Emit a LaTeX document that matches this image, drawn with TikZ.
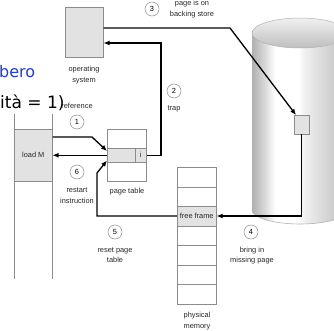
\documentclass[tikz,border=0pt]{standalone}
\usepackage{fontspec}
\setmainfont{Liberation Sans}
\newfontfamily\slidefont{DejaVu Sans}
\usetikzlibrary{arrows.meta,calc}
\definecolor{slideblue}{RGB}{30,60,215}
\definecolor{boxgray}{RGB}{226,226,226}
\definecolor{edgegray}{RGB}{140,140,140}
% light falling on the side of the disk (the path spans 25bp to 75bp)
\pgfdeclarehorizontalshading{diskside}{100bp}{%
  color(0bp)=(gray!62); color(25bp)=(gray!62); color(32bp)=(gray!28); color(37bp)=(white);
  color(49bp)=(white); color(52.5bp)=(gray!12); color(67.5bp)=(gray!40);
  color(75bp)=(gray!50); color(100bp)=(gray!50)}
\begin{document}
\begin{tikzpicture}[x=1pt,y=-1pt,
  cell/.style={draw=edgegray, line width=0.5pt, fill=white, inner sep=0pt, anchor=north west},
  shaded cell/.style={cell, fill=boxgray},
  lbl/.style={font=\fontsize{7.4}{10.5}\selectfont, align=center, text=black!85, inner sep=0pt},
  stepnum/.style={circle, draw=edgegray, line width=0.5pt, minimum size=14pt, inner sep=0pt,
    font=\fontsize{7.4}{8}\selectfont},
  flow/.style={line width=1.3pt, -{Latex[length=6pt,width=5pt]}},
  slide/.style={font=\slidefont\fontsize{16}{16}\selectfont, inner sep=0pt, anchor=base west},
]
\useasboundingbox (0,0) rectangle (334,331);
\clip (0,0) rectangle (334,331);

% backing store cylinder
\shade[shading=diskside, shading angle=0] (252,33) rectangle (348,210);
\shade[shading=diskside, shading angle=0] (300,210) ellipse [x radius=48, y radius=14];
\draw[gray!60, line width=0.6pt] (252,210) arc [start angle=180, end angle=0, x radius=48, y radius=14];
\shade[top color=gray!12, bottom color=gray!50, draw=gray!60, line width=0.5pt]
  (300,33) ellipse [x radius=48, y radius=15];
\node[shaded cell, minimum width=15, minimum height=19] (blk) at (294,115) {};

% operating system
\node[shaded cell, minimum width=38, minimum height=50] (os) at (65,7) {};
\node[lbl] (oslbl) at (84,75) {operating\\system};

% process with the faulting instruction
\draw[edgegray, line width=0.5pt] (14,114) -- (14,279) (52,114) -- (52,279);
\node[shaded cell, lbl, minimum width=38, minimum height=52] (loadm) at (14,129) {load M};

% page table
\node[cell, minimum width=39, minimum height=52] (pt) at (107,129) {};
\node[shaded cell, minimum width=28, minimum height=14] (ptrow) at (107,148) {};
\node[shaded cell, lbl, minimum width=11, minimum height=14] (ptbit) at (135,148) {i};
\node[lbl] (ptlbl) at (127,192) {page table};

% physical memory
\foreach \i in {0,1,3,4,5,6}
  \node[cell, minimum width=39, minimum height=19.5] (m\i) at (177,{167+19.5*\i}) {};
\node[shaded cell, lbl, minimum width=39, minimum height=19.5] (ff) at (177,206) {free frame};
\node[lbl] (memlbl) at (197,321) {physical\\memory};

% flow of the page fault
\draw[flow] ($(loadm.north east)+(0,8)$) -- (92,137) -- ($(ptrow.north west)+(0,3)$);
\draw[flow] (ptrow.west) -- (ptrow.west -| loadm.east);
\draw[flow] (ptbit.east) -| (161,43) -- (os.east |- 161,43);
\draw[flow] (os.east |- 0,28) -- (230,28) -- ($(blk.north west)+(2,0)$);
\draw[flow] (blk.south) |- (ff.east);
\draw[flow] (ff.west) -| (97,173) -- ($(ptrow.south west)+(0,-2)$);

% step numbers and captions
\node[stepnum] (s1) at (77,122) {1};
\node[stepnum] (s2) at (174,91) {2};
\node[stepnum] (s3) at (152,9) {3};
\node[stepnum] (s4) at (251,232) {4};
\node[stepnum] (s5) at (115,232) {5};
\node[stepnum] (s6) at (77,172) {6};
\node[lbl] (c1) at (77,106) {reference};
\node[lbl] (c2) at (174,109) {trap};
\node[lbl] (c3) at (192,9) {page is on\\backing store};
\node[lbl] (c4) at (252,255.5) {bring in\\missing page};
\node[lbl] (c5) at (115,255) {reset page\\table};
\node[lbl] (c6) at (77,195.5) {restart\\instruction};

% slide text behind the figure
\node[slide, text=slideblue] (t1) at (-1,78) {bero};
\node[slide, font=\slidefont\fontsize{17}{17}\selectfont] (t2) at (0,109) {ità = 1)};
\end{tikzpicture}
\end{document}
